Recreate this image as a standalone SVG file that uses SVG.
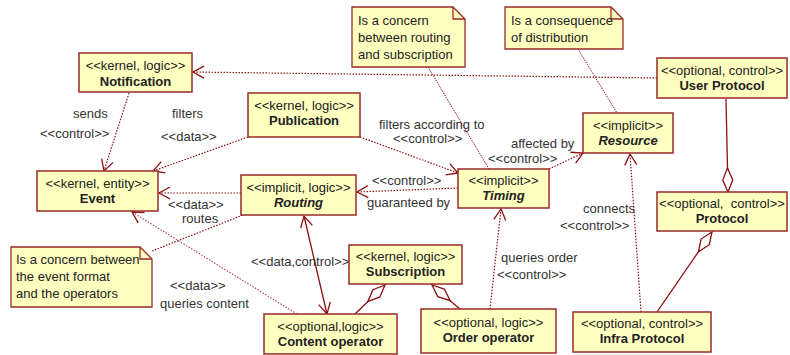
<svg xmlns="http://www.w3.org/2000/svg" width="790" height="355" viewBox="0 0 790 355">
<style>
.box{fill:#ffffc0;stroke:#9b2a2a;stroke-width:1.5}
.note{fill:#ffffc0;stroke:#9b2a2a;stroke-width:1.3}
.fold{fill:none;stroke:#9b2a2a;stroke-width:1.3}
text{font-family:"Liberation Sans",Arial,sans-serif;font-size:13px;fill:#222}
.st{text-anchor:middle}
.nm{text-anchor:middle;font-weight:bold}
.it{font-style:italic}
.lbl{fill:#333}
.dot{fill:none;stroke:#8b1010;stroke-width:1.2;stroke-dasharray:1.5,1.5}
.dotl{fill:none;stroke:#b04050;stroke-width:1.1;stroke-dasharray:1.5,1.5}
.sol{fill:none;stroke:#8b1010;stroke-width:1.3}
.anc{fill:none;stroke:#a02030;stroke-width:1;stroke-dasharray:1.5,1}
</style>
<defs>
<marker id="arr" viewBox="-13 -8 15 16" refX="0" refY="0" markerWidth="15" markerHeight="16" markerUnits="userSpaceOnUse" orient="auto-start-reverse">
<path d="M-11,-6 L0,0 L-11,6" fill="none" stroke="#8b1010" stroke-width="1.3"/>
</marker>
<marker id="dia" viewBox="-26 -8 28 16" refX="0" refY="0" markerWidth="28" markerHeight="16" markerUnits="userSpaceOnUse" orient="auto-start-reverse">
<path d="M0,0 L-12,-5 L-24,0 L-12,5 Z" fill="#fff" stroke="#8b1010" stroke-width="1.3"/>
</marker>
</defs>
<rect width="790" height="355" fill="#fff"/>

<g id="connectors">
<line class="dot" x1="129" y1="93" x2="104" y2="171" marker-end="url(#arr)"/>
<line class="dot" x1="248" y1="137" x2="153" y2="171" marker-end="url(#arr)"/>
<line class="dot" x1="657" y1="78" x2="193" y2="72" marker-end="url(#arr)"/>
<line class="dot" x1="360" y1="137" x2="458" y2="173" marker-end="url(#arr)"/>
<line class="anc" x1="428" y1="67" x2="489" y2="169"/>
<line class="anc" x1="578" y1="49" x2="617" y2="113"/>
<line class="dot" x1="549" y1="169" x2="583" y2="153" marker-end="url(#arr)"/>
<line class="dot" x1="458" y1="188" x2="357" y2="192" marker-end="url(#arr)"/>
<line class="dot" x1="241" y1="193" x2="159" y2="193" marker-end="url(#arr)"/>
<line class="dot" x1="152" y1="251" x2="243" y2="215"/>
<line class="dotl" x1="297" y1="314" x2="132" y2="212" marker-end="url(#arr)"/>
<line class="sol" x1="304" y1="216" x2="327" y2="314" marker-start="url(#arr)" marker-end="url(#arr)"/>
<line class="sol" x1="385" y1="285" x2="355" y2="314" marker-start="url(#dia)"/>
<line class="sol" x1="432" y1="285" x2="461" y2="310" marker-start="url(#dia)"/>
<line class="dot" x1="490" y1="309" x2="501" y2="209" marker-end="url(#arr)"/>
<line class="dot" x1="641" y1="312" x2="630" y2="154" marker-end="url(#arr)"/>
<line class="sol" x1="726" y1="99" x2="728" y2="192" marker-end="url(#dia)"/>
<line class="sol" x1="712" y1="232" x2="657" y2="312" marker-start="url(#dia)"/>
</g>

<g id="edge-labels">
<text class="lbl" x="73" y="118">sends</text>
<text class="lbl" x="40" y="138">&lt;&lt;control&gt;&gt;</text>
<text class="lbl" x="172" y="118">filters</text>
<text class="lbl" x="161" y="141">&lt;&lt;data&gt;&gt;</text>
<text class="lbl" x="379" y="129">filters according to</text>
<text class="lbl" x="393" y="143">&lt;&lt;control&gt;&gt;</text>
<text class="lbl" x="511" y="148">affected by</text>
<text class="lbl" x="488" y="163">&lt;&lt;control&gt;&gt;</text>
<text class="lbl" x="372" y="185">&lt;&lt;control&gt;&gt;</text>
<text class="lbl" x="367" y="207">guaranteed by</text>
<text class="lbl" x="168" y="209">&lt;&lt;data&gt;&gt;</text>
<text class="lbl" x="182" y="223">routes</text>
<text class="lbl" x="170" y="290">&lt;&lt;data&gt;&gt;</text>
<text class="lbl" x="160" y="308">queries content</text>
<text class="lbl" x="251" y="266">&lt;&lt;data,control&gt;&gt;</text>
<text class="lbl" x="501" y="262">queries order</text>
<text class="lbl" x="497" y="279">&lt;&lt;control&gt;&gt;</text>
<text class="lbl" x="583" y="213">connects</text>
<text class="lbl" x="560" y="230">&lt;&lt;control&gt;&gt;</text>
</g>

<g id="note-routing-subscription">
<path class="note" d="M352,7 H453 L465,19 V67 H352 Z"/>
<path class="fold" d="M453,7 V19 H465"/>
<text x="358" y="25">Is a concern</text>
<text x="358" y="42">between routing</text>
<text x="358" y="59">and subscription</text>
</g>
<g id="note-distribution">
<path class="note" d="M505,7 H611 L623,19 V49 H505 Z"/>
<path class="fold" d="M611,7 V19 H623"/>
<text x="511" y="25">Is a consequence</text>
<text x="511" y="42">of distribution</text>
</g>
<g id="note-event-format">
<path class="note" d="M11,247 H140 L152,259 V307 H11 Z"/>
<path class="fold" d="M140,247 V259 H152"/>
<text x="16" y="264">Is a concern between</text>
<text x="16" y="281">the event format</text>
<text x="16" y="298">and the operators</text>
</g>

<g id="notification">
<rect class="box" x="79" y="53" width="113" height="39"/>
<text class="st" x="135.5" y="70">&lt;&lt;kernel, logic&gt;&gt;</text>
<text class="nm" x="135.5" y="86">Notification</text>
</g>
<g id="publication">
<rect class="box" x="248" y="93" width="112" height="44"/>
<text class="st" x="304" y="110">&lt;&lt;kernel, logic&gt;&gt;</text>
<text class="nm" x="304" y="125">Publication</text>
</g>
<g id="user-protocol">
<rect class="box" x="657" y="58" width="130" height="40"/>
<text class="st" x="722" y="75">&lt;&lt;optional, control&gt;&gt;</text>
<text class="nm" x="722" y="90">User Protocol</text>
</g>
<g id="resource">
<rect class="box" x="583" y="113" width="90" height="40"/>
<text class="st" x="628" y="130">&lt;&lt;implicit&gt;&gt;</text>
<text class="nm it" x="628" y="145">Resource</text>
</g>
<g id="event">
<rect class="box" x="37" y="171" width="121" height="40"/>
<text class="st" x="97.5" y="188">&lt;&lt;kernel, entity&gt;&gt;</text>
<text class="nm" x="97.5" y="203">Event</text>
</g>
<g id="routing">
<rect class="box" x="241" y="175" width="115" height="40"/>
<text class="st" x="298.5" y="192">&lt;&lt;implicit, logic&gt;&gt;</text>
<text class="nm it" x="298.5" y="207">Routing</text>
</g>
<g id="timing">
<rect class="box" x="458" y="169" width="91" height="39"/>
<text class="st" x="503.5" y="185">&lt;&lt;implicit&gt;&gt;</text>
<text class="nm it" x="503.5" y="200">Timing</text>
</g>
<g id="protocol">
<rect class="box" x="657" y="192" width="130" height="39"/>
<text class="st" x="722" y="208" style="white-space:pre">&lt;&lt;optional,  control&gt;&gt;</text>
<text class="nm" x="722" y="223">Protocol</text>
</g>
<g id="subscription">
<rect class="box" x="349" y="245" width="113" height="39"/>
<text class="st" x="405.5" y="261">&lt;&lt;kernel, logic&gt;&gt;</text>
<text class="nm" x="405.5" y="276">Subscription</text>
</g>
<g id="content-operator">
<rect class="box" x="264" y="314" width="133" height="40"/>
<text class="st" x="330.5" y="331">&lt;&lt;optional,logic&gt;&gt;</text>
<text class="nm" x="330.5" y="346">Content operator</text>
</g>
<g id="order-operator">
<rect class="box" x="421" y="309" width="135" height="44"/>
<text class="st" x="488.5" y="327">&lt;&lt;optional, logic&gt;&gt;</text>
<text class="nm" x="488.5" y="342">Order operator</text>
</g>
<g id="infra-protocol">
<rect class="box" x="573" y="312" width="138" height="40"/>
<text class="st" x="642" y="328">&lt;&lt;optional, control&gt;&gt;</text>
<text class="nm" x="642" y="343">Infra Protocol</text>
</g>
</svg>
